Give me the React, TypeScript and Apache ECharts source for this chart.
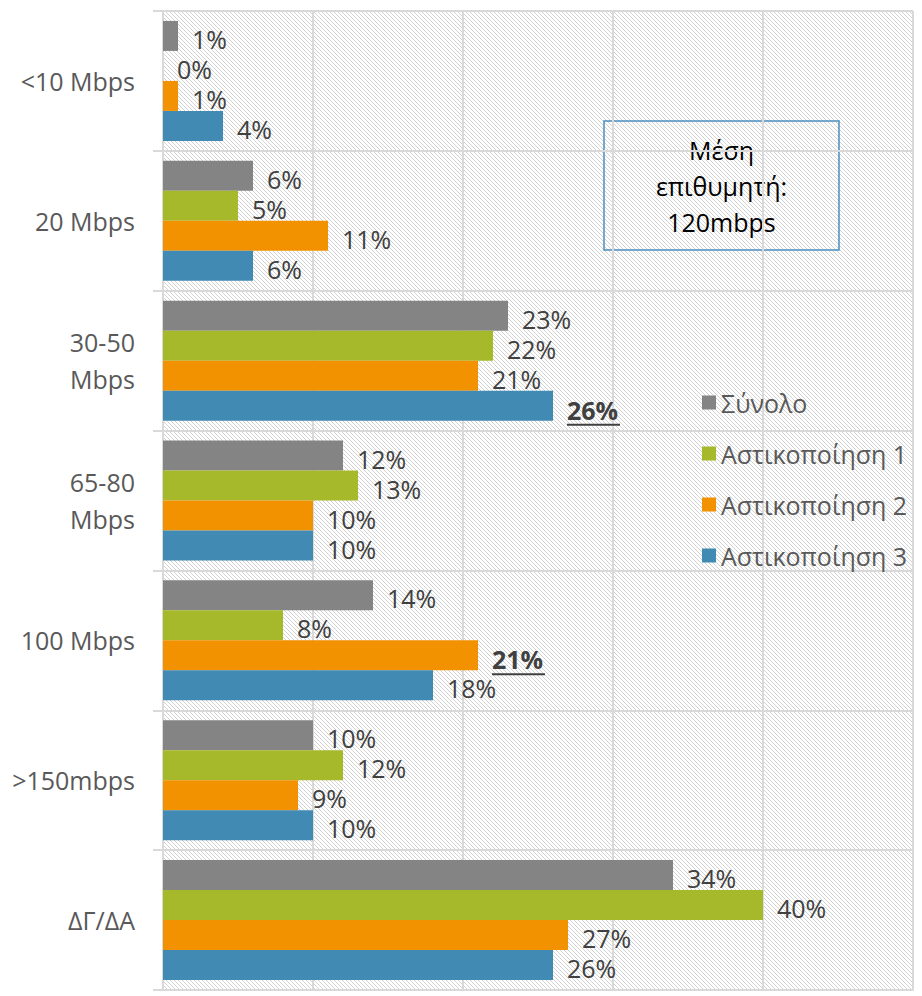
import React, { useEffect, useRef } from "react";
import * as echarts from "echarts";

const categories = ["<10 Mbps", "20 Mbps", "30-50 Mbps", "65-80 Mbps", "100 Mbps", ">150mbps", "ΔΓ/ΔΑ"];
const seriesNames = ["Σύνολο", "Αστικοποίηση 1", "Αστικοποίηση 2", "Αστικοποίηση 3"];
const totalValues = [1, 6, 23, 12, 14, 10, 34];
const urban1Values = [0, 5, 22, 13, 8, 12, 40];
const urban2Values = [1, 11, 21, 10, 21, 9, 27];
const urban3Values = [4, 6, 26, 10, 18, 10, 26];
const seriesValues = [totalValues, urban1Values, urban2Values, urban3Values];
// highlighted (bold + underlined) labels: [seriesIndex, categoryIndex]
const highlighted = [
  [3, 2],
  [2, 4],
];
const noteLines = ["Μέση", "επιθυμητή:", "120mbps"];

const colors = ["#848484", "#a6b92b", "#f39200", "#418ab3"];
const FONT = "'Open Sans', 'Noto Sans', sans-serif";
const GRID = { left: 163, top: 11, right: 9, bottom: 6 };
const W = 922;
const H = 996;

function hatchPath(w: number, h: number, step: number): string {
  // "\" diagonal lines (y = x + c) clipped to [0,w]x[0,h]
  const parts: string[] = [];
  for (let c = -w; c <= h; c += step) {
    const xs = Math.max(0, -c);
    const xe = Math.min(w, h - c);
    if (xe <= xs) continue;
    parts.push("M" + xs + " " + (xs + c) + "L" + xe + " " + (xe + c));
  }
  return parts.join("");
}

let registered = false;

export default function App() {
  const ref = useRef<HTMLDivElement>(null);
  useEffect(() => {
    document.body.style.margin = "0";
    if (!ref.current) return;
    const gw = W - GRID.left - GRID.right;
    const gh = H - GRID.top - GRID.bottom;
    if (!registered) {
      echarts.graphic.registerShape("hatch", echarts.graphic.extendPath(hatchPath(gw, gh, 4), {}) as any);
      registered = true;
    }
    const chart = echarts.init(ref.current, undefined, { renderer: "svg" });

    const series = seriesNames.map((name, si) => ({
      name,
      type: "bar",
      barWidth: 30,
      barGap: "0%",
      itemStyle: { color: colors[si] },
      label: {
        show: true,
        position: "right",
        distance: 14,
        offset: [0, 3],
        fontSize: 25,
        lineHeight: 30,
        color: "#404040",
        fontFamily: FONT,
        formatter: (p: any) => p.value + "%",
      },
      data: seriesValues[si].map((v, ci) => {
        const hl = highlighted.some(([s, k]) => s === si && k === ci);
        if (!hl) return v;
        return {
          value: v,
          label: {
            offset: [0, 5],
            formatter: (p: any) => "{b|" + p.value + "%}\n{u| }",
            rich: {
              b: { fontSize: 25, lineHeight: 28, fontWeight: "bold", color: "#404040", fontFamily: FONT },
              u: { width: 53, height: 2, lineHeight: 2, fontSize: 2, backgroundColor: "#404040" },
            },
          },
        };
      }),
    }));

    chart.setOption({
      animation: false,
      textStyle: { fontFamily: FONT },
      grid: { ...GRID, containLabel: false },
      legend: {
        orient: "vertical",
        left: 697,
        top: 385,
        itemWidth: 14,
        itemHeight: 14,
        itemGap: 26,
        icon: "rect",
        textStyle: { fontSize: 25, color: "#595959", fontFamily: FONT },
        data: seriesNames,
      },
      xAxis: {
        type: "value",
        min: 0,
        max: 50,
        interval: 10,
        axisLabel: { show: false },
        axisTick: { show: false },
        axisLine: { show: true, lineStyle: { color: "#d9d9d9", width: 2 } },
        splitLine: { show: true, lineStyle: { color: "#d9d9d9", width: 2 } },
      },
      yAxis: {
        type: "category",
        inverse: true,
        data: categories,
        axisLine: { show: true, lineStyle: { color: "#d9d9d9", width: 2 } },
        axisTick: { show: true, length: 10, lineStyle: { color: "#d9d9d9", width: 2 } },
        splitLine: { show: true, lineStyle: { color: "#d9d9d9", width: 2 } },
        axisLabel: {
          fontSize: 25,
          lineHeight: 37,
          color: "#595959",
          margin: 28,
          fontFamily: FONT,
          formatter: (v: string) => v.replace(/^(\d+-\d+) /, "$1\n"),
        },
      },
      graphic: [
        {
          type: "hatch",
          z: -10,
          silent: true,
          x: GRID.left,
          y: GRID.top,
          scaleX: 1,
          scaleY: 1,
          style: { fill: "none", stroke: "#d2d2d2", lineWidth: 1 },
        },
        {
          type: "group",
          z: 10,
          children: [
            {
              type: "rect",
              shape: { x: 604, y: 121, width: 235, height: 129 },
              style: { fill: "rgba(0,0,0,0)", stroke: "#4a8fc0", lineWidth: 1.5 },
            },
            {
              type: "text",
              x: 721.5,
              y: 185.5,
              style: {
                text: noteLines.join("\n"),
                fontSize: 25,
                lineHeight: 36,
                fontFamily: FONT,
                fill: "#000000",
                align: "center",
                verticalAlign: "middle",
              },
            },
          ],
        },
      ],
      series,
    });
    return () => chart.dispose();
  }, []);
  return <div ref={ref} style={{ width: W, height: H, overflow: "hidden" }} />;
}
